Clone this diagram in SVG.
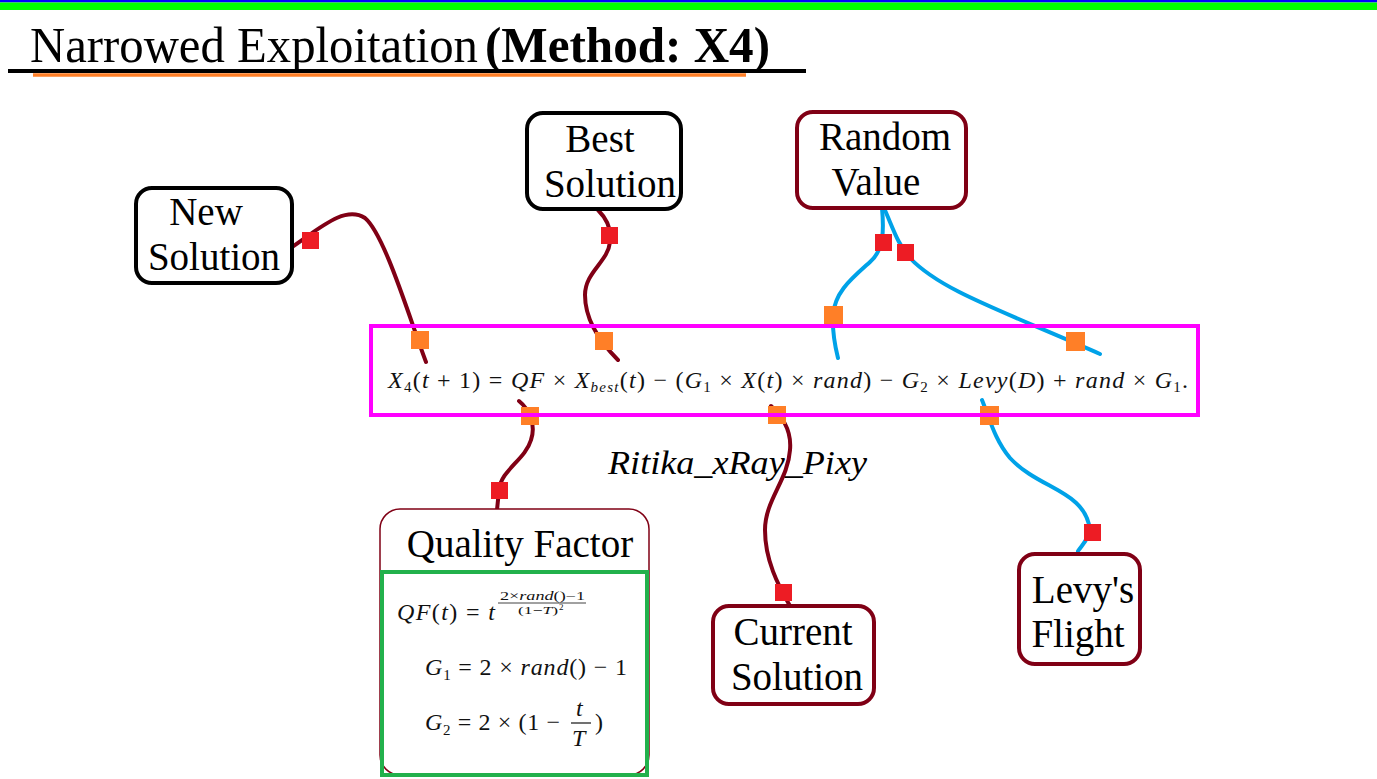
<svg xmlns="http://www.w3.org/2000/svg" width="1377" height="779" viewBox="0 0 1377 779">
<style>
.t{font-family:"Liberation Serif","Times New Roman",serif;fill:#000}
.n{font-size:39px}
.box{fill:#fff;stroke-width:4}
.blk{stroke:#000}
.dr{stroke:#800015}
.c-dr{fill:none;stroke:#800015;stroke-width:4;stroke-linecap:round}
.c-bl{fill:none;stroke:#00A2E8;stroke-width:4;stroke-linecap:round}
.sq-o{fill:#FF7F27}
.sq-r{fill:#ED1C24}
.m{font-family:"Liberation Serif","Times New Roman",serif;fill:#111}
.mi{font-style:italic}
</style>
<rect x="0" y="0" width="1377" height="779" fill="#fff"/>
<rect x="0" y="0" width="1377" height="2.5" fill="#0000FF"/>
<rect x="0" y="2.5" width="1377" height="7.5" fill="#00FF00"/>
<g id="title">
<text class="t" x="30" y="62" font-size="51" textLength="448" lengthAdjust="spacingAndGlyphs">Narrowed Exploitation</text>
<text class="t" x="485" y="62" font-size="50" font-weight="bold" textLength="285" lengthAdjust="spacingAndGlyphs">(Method: X4)</text>
<line x1="8" y1="71" x2="806" y2="71" stroke="#000" stroke-width="4"/>
<line x1="33" y1="75" x2="746" y2="75" stroke="#FF7F27" stroke-width="3.5"/>
</g>
<g id="connectors">
<path class="c-dr" d="M292 247 C320 228 345 205 365 218 C385 235 410 320 426 362"/>
<path class="c-dr" d="M598 210 C606 218 612 228 610 242 C608 262 585 272 585 295 C585 320 600 342 618 360"/>
<path class="c-bl" d="M882 208 C884 230 884 250 870 262 C850 280 835 292 833 315 C832 335 836 350 838 358"/>
<path class="c-bl" d="M884 208 C893 228 898 245 910 258 C940 290 1000 310 1100 354"/>
<path class="c-dr" d="M519 401 C530 410 536 425 531 440 C525 460 501 470 499 490 L497 510"/>
<path class="c-dr" d="M771 406 C780 415 792 428 790 450 C788 480 765 500 765 530 C765 560 778 585 790 606"/>
<path class="c-bl" d="M982 400 C990 420 995 440 1010 458 C1040 490 1085 490 1090 530 C1088 540 1082 545 1078 551"/>
<rect class="sq-r" x="302" y="232" width="17" height="17"/>
<rect class="sq-o" x="411" y="331" width="18" height="18"/>
<rect class="sq-r" x="601" y="227" width="17" height="17"/>
<rect class="sq-o" x="595" y="332" width="18" height="18"/>
<rect class="sq-r" x="875" y="234" width="17" height="17"/>
<rect class="sq-r" x="897" y="244" width="17" height="17"/>
<rect class="sq-o" x="824" y="306" width="19" height="19"/>
<rect class="sq-o" x="1066" y="332" width="19" height="19"/>
<rect class="sq-o" x="521" y="407" width="18" height="18"/>
<rect class="sq-r" x="491" y="482" width="17" height="17"/>
<rect class="sq-o" x="768" y="406" width="18" height="18"/>
<rect class="sq-r" x="775" y="584" width="17" height="17"/>
<rect class="sq-o" x="980" y="406" width="19" height="19"/>
<rect class="sq-r" x="1084" y="524" width="17" height="17"/>
</g>
<g id="formula">
<rect x="371" y="326" width="827" height="89" fill="none" stroke="#FF00FF" stroke-width="4"/>
<text class="m" x="388" y="388" font-size="24" textLength="800" lengthAdjust="spacing"><tspan class="mi">X</tspan><tspan font-size="15" dy="4">4</tspan><tspan dy="-4">(</tspan><tspan class="mi">t</tspan> + 1) = <tspan class="mi">QF</tspan> × <tspan class="mi">X</tspan><tspan class="mi" font-size="15" dy="4">best</tspan><tspan dy="-4">(</tspan><tspan class="mi">t</tspan>) − (<tspan class="mi">G</tspan><tspan font-size="15" dy="4">1</tspan><tspan dy="-4"> × </tspan><tspan class="mi">X</tspan>(<tspan class="mi">t</tspan>) × <tspan class="mi">rand</tspan>) − <tspan class="mi">G</tspan><tspan font-size="15" dy="4">2</tspan><tspan dy="-4"> × </tspan><tspan class="mi">Levy</tspan>(<tspan class="mi">D</tspan>) + <tspan class="mi">rand</tspan> × <tspan class="mi">G</tspan><tspan font-size="15" dy="4">1</tspan><tspan dy="-4">.</tspan></text>
</g>
<g id="watermark">
<text x="608" y="474" font-family="Liberation Serif, Times New Roman, serif" font-style="italic" font-size="34" fill="#000" textLength="259" lengthAdjust="spacingAndGlyphs">Ritika_xRay_Pixy</text>
</g>
<g id="new-solution">
<rect class="box blk" x="136" y="188" width="156" height="95" rx="16"/>
<text class="t n" x="206" y="225" text-anchor="middle">New</text>
<text class="t n" x="214" y="270" text-anchor="middle">Solution</text>
</g>
<g id="best-solution">
<rect class="box blk" x="527" y="113" width="154" height="96" rx="16"/>
<text class="t n" x="600" y="152" text-anchor="middle">Best</text>
<text class="t n" x="610" y="197" text-anchor="middle">Solution</text>
</g>
<g id="random-value">
<rect class="box dr" x="797" y="112" width="169" height="96" rx="16"/>
<text class="t n" x="885" y="150" text-anchor="middle">Random</text>
<text class="t n" x="876" y="195" text-anchor="middle">Value</text>
</g>
<g id="quality-factor">
<rect x="380" y="509" width="269" height="266" rx="20" fill="#fff" stroke="#800015" stroke-width="1.5"/>
<text class="t n" x="520" y="557" text-anchor="middle">Quality Factor</text>
<rect x="382" y="572" width="265" height="203" fill="none" stroke="#22B14C" stroke-width="4"/>
<text class="m" x="397" y="620" font-size="24" textLength="98" lengthAdjust="spacing"><tspan class="mi">QF</tspan>(<tspan class="mi">t</tspan>) = <tspan class="mi">t</tspan></text>
<text class="m" x="500" y="600" font-size="12" textLength="85" lengthAdjust="spacingAndGlyphs">2×<tspan class="mi">rand</tspan>()−1</text>
<line x1="498" y1="603" x2="586" y2="603" stroke="#111" stroke-width="0.8"/>
<text class="m" x="518" y="614" font-size="11" textLength="40" lengthAdjust="spacingAndGlyphs">(1−<tspan class="mi">T</tspan>)</text>
<text class="m" x="559" y="610" font-size="9">2</text>
<text class="m" x="425" y="675" font-size="24" textLength="202" lengthAdjust="spacing"><tspan class="mi">G</tspan><tspan font-size="15" dy="5">1</tspan><tspan dy="-5"> = 2 × </tspan><tspan class="mi">rand</tspan>() − 1</text>
<text class="m" x="425" y="730" font-size="24" textLength="135" lengthAdjust="spacing"><tspan class="mi">G</tspan><tspan font-size="15" dy="5">2</tspan><tspan dy="-5"> = 2 × (1 −</tspan></text>
<text class="m mi" x="576" y="716" font-size="24">t</text>
<line x1="571" y1="723" x2="591" y2="723" stroke="#111" stroke-width="1.2"/>
<text class="m mi" x="572" y="746" font-size="24">T</text>
<text class="m" x="595" y="730" font-size="24">)</text>
</g>
<g id="current-solution">
<rect class="box dr" x="713" y="606" width="161" height="98" rx="16"/>
<text class="t n" x="793" y="645" text-anchor="middle">Current</text>
<text class="t n" x="797" y="690" text-anchor="middle">Solution</text>
</g>
<g id="levys-flight">
<rect class="box dr" x="1019" y="554" width="121" height="110" rx="16"/>
<text class="t n" x="1083" y="603" text-anchor="middle">Levy's</text>
<text class="t n" x="1078" y="647" text-anchor="middle">Flight</text>
</g>
</svg>
